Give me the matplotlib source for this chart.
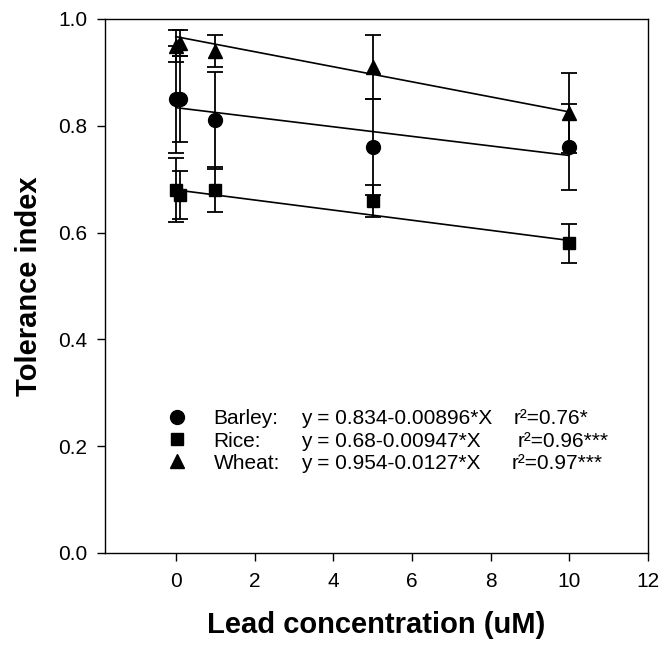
import numpy as np
import matplotlib.pyplot as plt
from matplotlib.lines import Line2D

plt.rcParams["font.family"] = ["Liberation Sans", "DejaVu Sans"]

# ── Data ──────────────────────────────────────────────────────────────────
conc = [0, 0.1, 1, 5, 10]

barley = [0.85, 0.85, 0.81, 0.76, 0.76]
barley_err = [0.10, 0.08, 0.09, 0.09, 0.08]

rice = [0.68, 0.67, 0.68, 0.66, 0.58]
rice_err = [0.06, 0.045, 0.042, 0.03, 0.036]

wheat = [0.95, 0.955, 0.94, 0.91, 0.824]
wheat_err = [0.03, 0.025, 0.03, 0.06, 0.075]

# fitted lines as drawn (intercept, slope)
fit_intercept = [0.834, 0.68, 0.967]
fit_slope = [-0.00896, -0.00947, -0.0141]

names = ["Barley:", "Rice:", "Wheat:"]
equations = ["y = 0.834-0.00896*X", "y = 0.68-0.00947*X", "y = 0.954-0.0127*X"]
r2_text = ["r²=0.76*", "r²=0.96***", "r²=0.97***"]

x_ticks = [0, 2, 4, 6, 8, 10, 12]
y_ticks = [0.0, 0.2, 0.4, 0.6, 0.8, 1.0]

# ── Figure ────────────────────────────────────────────────────────────────
fig = plt.figure(figsize=(6.62, 6.47), dpi=100)
ax = fig.add_axes([105 / 662, 1 - 553 / 647, 543 / 662, 534 / 647])

series = [(barley, barley_err, "o", 10), (rice, rice_err, "s", 8.5), (wheat, wheat_err, "^", 10)]

handles = []
for (vals, errs, mk, ms), b0, b1 in zip(series, fit_intercept, fit_slope):
    xs = np.array([conc[0], conc[-1]])
    ax.plot(xs, b0 + b1 * xs, color="black", lw=1.2, zorder=2)
    ax.errorbar(conc, vals, yerr=errs, fmt="none", ecolor="black",
                elinewidth=1.3, capsize=5.5, capthick=1.3, zorder=3)
    h, = ax.plot(conc, vals, linestyle="none", marker=mk, markersize=ms,
                 color="black", markeredgecolor="black", zorder=4)
    handles.append(h)

ax.set_xlim(-1.8, 12)
ax.set_ylim(0, 1.0)
ax.set_xticks(x_ticks)
ax.set_yticks(y_ticks)
ax.set_yticklabels([f"{v:.1f}" for v in y_ticks])
ax.tick_params(axis="both", direction="out", length=5.8, width=1.0,
               labelsize=15, top=False, right=False)
ax.tick_params(axis="x", pad=8)
ax.tick_params(axis="y", pad=7)
for sp in ax.spines.values():
    sp.set_linewidth(1.0)

ax.set_xlabel("Lead concentration (uM)", fontsize=21, fontweight="bold")
ax.set_ylabel("Tolerance index", fontsize=21, fontweight="bold")
ax.xaxis.set_label_coords(0.5, -0.108)
ax.yaxis.set_label_coords(-0.115, 0.5)

# ── Legend: markers + names, then equation columns ────────────────────────
key_handles = [Line2D([], [], linestyle="none", marker=h.get_marker(),
                      markersize=h.get_markersize(), color="black") for h in handles]
leg = ax.legend(key_handles, names, loc="center left", bbox_to_anchor=(0.1133, 0.2097),
                frameon=False, fontsize=15, handlelength=1.0, handletextpad=1.26,
                borderpad=0, borderaxespad=0, labelspacing=0.15)

fig.canvas.draw()
inv = ax.transAxes.inverted()
eq_x = 0.361
r2_x = [0.753, 0.7606, 0.7495]
for t, eq, r2, rx in zip(leg.get_texts(), equations, r2_text, r2_x):
    bb = t.get_window_extent()
    _, yc = inv.transform((0, (bb.y0 + bb.y1) / 2))
    ax.text(eq_x, yc, eq, transform=ax.transAxes, fontsize=15, va="center", ha="left")
    ax.text(rx, yc, r2, transform=ax.transAxes, fontsize=15, va="center", ha="left")

plt.savefig("out.png", dpi=100)
